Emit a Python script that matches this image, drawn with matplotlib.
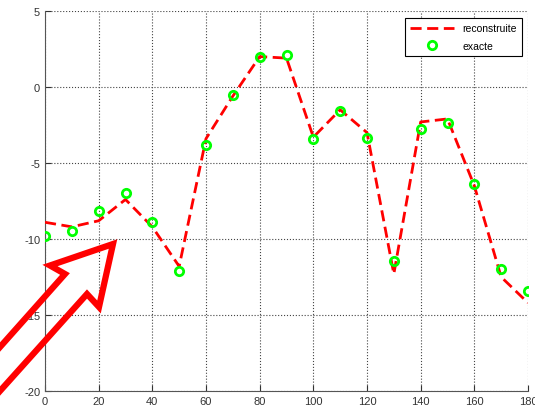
import numpy as np
import matplotlib
matplotlib.use('Agg')
import matplotlib.pyplot as plt
from matplotlib.lines import Line2D

plt.rcParams['font.family'] = ['Liberation Sans', 'DejaVu Sans']
plt.rcParams['axes.unicode_minus'] = False

# valeurs
x = np.arange(0, 181, 10)
y_exacte = [-9.8, -9.45, -8.15, -6.95, -8.9, -12.1, -3.8, -0.5, 2.0, 2.1,
            -3.45, -1.55, -3.35, -11.45, -2.75, -2.4, -6.35, -12.0, -13.45]
y_reconstruite = [-8.9, -9.2, -8.8, -7.4, -9.2, -11.8, -3.4, -0.6, 2.0, 1.9,
                  -3.3, -1.5, -3.0, -12.3, -2.3, -2.1, -6.5, -12.5, -14.2]

xticks = np.arange(0, 181, 20)
yticks = np.arange(-20, 6, 5)

fig = plt.figure(figsize=(5.35, 4.14), dpi=100)
ax = fig.add_axes([45 / 535, 22 / 414, 483 / 535, 380 / 414])

ax.plot(x, y_reconstruite, color='red', lw=2, dashes=(4, 2),
        label='reconstruite', zorder=3)
ax.plot(x, y_exacte, 'o', mfc='none', mec=(0, 1, 0), ms=6, mew=2,
        label='exacte', zorder=4)

ax.set_xlim(0, 180)
ax.set_ylim(-20, 5)
ax.set_xticks(xticks)
ax.set_yticks(yticks)
ax.grid(True, ls=':', color='#444444', lw=0.8)
for s in ['top', 'right']:
    ax.spines[s].set_visible(False)
for s in ['left', 'bottom']:
    ax.spines[s].set_color('#555555')
ax.tick_params(direction='in', length=4, labelsize=8, colors='#333333')

leg = ax.legend(loc='upper right', bbox_to_anchor=(1 - 6 / 483, 1 - 7 / 380),
                borderaxespad=0, fontsize=7.5, fancybox=False, framealpha=1,
                handlelength=4.2, labelspacing=0.7, borderpad=0.5)
leg.get_frame().set_edgecolor('black')
leg.get_frame().set_linewidth(0.8)

# grande fleche rouge (contour, pixels de la figure)
px = [-20, 65, 50, 113, 99, 87, -20]
py = [370.5, 275, 266.5, 245, 308, 295, 414.3]
fig.add_artist(Line2D([p / 535 for p in px], [1 - p / 414 for p in py],
                      transform=fig.transFigure, color='red', lw=4.5,
                      solid_joinstyle='miter', zorder=10))

fig.savefig('out.png', dpi=100)
